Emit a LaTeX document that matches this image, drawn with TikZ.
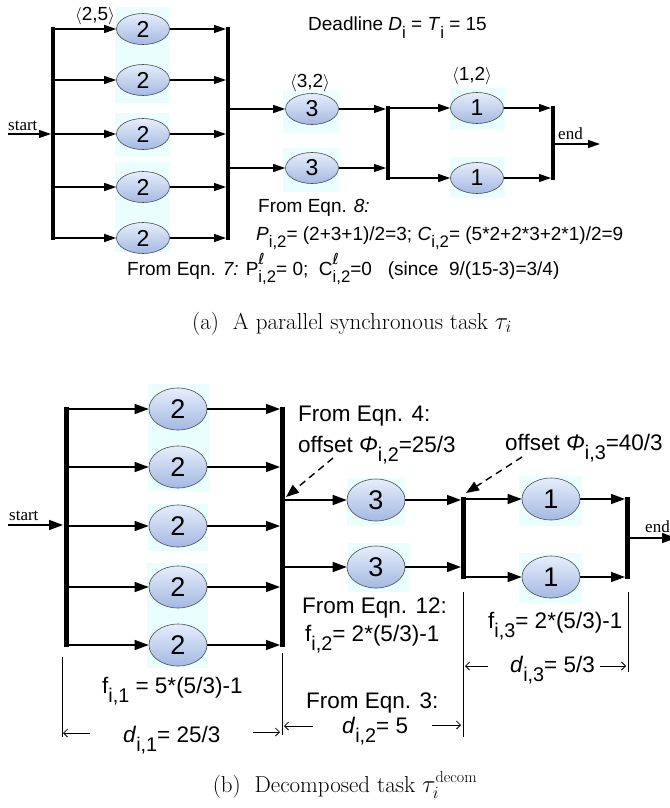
\documentclass[tikz,border=0pt]{standalone}
\usepackage{fontspec}
\usepackage{graphicx}
\usetikzlibrary{shapes.geometric,arrows.meta}
\newfontfamily\lsans{Liberation Sans}
\newfontfamily\lserif{Liberation Serif}
\newfontfamily\djv{DejaVu Sans}
\definecolor{bgcyan}{RGB}{234,254,254}
\definecolor{elltop}{RGB}{230,238,252}
\definecolor{ellbot}{RGB}{164,184,226}
\newcommand{\mysub}[1]{\raisebox{-0.42em}{\scalebox{0.88}{#1}}}
\newcommand{\mysubsup}[2]{\rlap{\raisebox{0.55em}{\scalebox{0.8}{\djv\itshape #2}}}\raisebox{-0.42em}{\scalebox{0.88}{#1}}}
\begin{document}
\begin{tikzpicture}[x=1pt,y=-1pt,
  taskA/.style={ellipse, draw=black!70, line width=0.6pt, top color=elltop, bottom color=ellbot,
    minimum width=53pt, minimum height=31pt, inner sep=0pt, font=\lsans\fontsize{23}{23}\selectfont},
  taskB/.style={taskA, minimum width=58pt, minimum height=42pt, font=\lsans\fontsize{27}{27}\selectfont},
  arrA/.style={line width=1.2pt, -{Triangle[length=12pt,width=8pt]}},
  arrB/.style={line width=1.4pt, -{Triangle[length=14pt,width=10pt]}},
  dasharr/.style={line width=1.4pt, dash pattern=on 7pt off 5pt, -{Triangle[length=13pt,width=10pt]}},
  barA/.style={line width=4pt},
  barB/.style={line width=5pt},
  dimline/.style={line width=0.9pt},
  dimarr/.style={line width=0.8pt, -{Straight Barb[length=4pt,width=8pt]}},
  lblA/.style={font=\lsans\fontsize{19}{22}\selectfont, inner sep=0pt},
  lblB/.style={font=\lsans\fontsize{22.5}{26}\selectfont, inner sep=0pt},
  serl/.style={font=\lserif\fontsize{17}{20}\selectfont, inner sep=0pt},
  capt/.style={font=\fontsize{23}{27}\selectfont, inner sep=0pt}
]
\useasboundingbox (0,0) rectangle (669,808);

% ---------- backgrounds (a)
\fill[bgcyan] (115,7) rectangle (170,103);
\fill[bgcyan] (115,113) rectangle (170,157);
\fill[bgcyan] (115,162) rectangle (170,252);
\fill[bgcyan] (283,90) rectangle (339,133);
\fill[bgcyan] (283,148) rectangle (339,192);
\fill[bgcyan] (450,88) rectangle (505,130);
\fill[bgcyan] (450,157) rectangle (505,198);
% ---------- backgrounds (b)
\fill[bgcyan] (148,384) rectangle (210,491);
\fill[bgcyan] (148,504) rectangle (208,551);
\fill[bgcyan] (147,563) rectangle (208,668);
\fill[bgcyan] (347,478) rectangle (405,526);
\fill[bgcyan] (348,543) rectangle (410,592);
\fill[bgcyan] (519,476) rectangle (582,526);
\fill[bgcyan] (519,553) rectangle (582,603);

% ================= (a)
\foreach \n/\y in {1/29,2/80,3/134,4/187,5/238} \node[taskA] (a\n) at (143,\y) {2};
\node[taskA] (a6) at (312,109) {3};
\node[taskA] (a7) at (312,168) {3};
\node[taskA] (a8) at (477,108) {1};
\node[taskA] (a9) at (477,178) {1};

\coordinate (A1) at (53,0);
\coordinate (A2) at (228,0);
\coordinate (A3) at (388,0);
\coordinate (A4) at (553,0);
\draw[barA] (53,27) -- (53,240);
\draw[barA] (228,27) -- (228,240);
\draw[barA] (388,106) -- (388,180);
\draw[barA] (553,106) -- (553,180);

\coordinate (sA) at (8,134);
\coordinate (eA) at (600,144);
\draw[arrA, shorten >=2pt] (sA) -- (A1 |- sA);
\foreach \n in {1,...,5} {
  \draw[arrA] (A1 |- a\n) -- (a\n);
  \draw[arrA, shorten >=2pt] (a\n) -- (A2 |- a\n);
}
\draw[arrA] (A2 |- a6) -- (a6);
\draw[arrA] (A2 |- a7) -- (a7);
\draw[arrA, shorten >=2pt] (a6) -- (A3 |- a6);
\draw[arrA, shorten >=2pt] (a7) -- (A3 |- a7);
\draw[arrA] (A3 |- a8) -- (a8);
\draw[arrA] (A3 |- a9) -- (a9);
\draw[arrA, shorten >=2pt] (a8) -- (A4 |- a8);
\draw[arrA, shorten >=2pt] (a9) -- (A4 |- a9);
\draw[arrA] (A4 |- eA) -- (eA);

\node[serl, anchor=base west] (stA) at (8,130) {start};
\node[serl, anchor=base west] (enA) at (558,139) {end};

\node[lblA, anchor=base] (l25) at (95,21) {$\langle$2,5$\rangle$};
\node[lblA, anchor=base] (l32) at (310,87) {$\langle$3,2$\rangle$};
\node[lblA, anchor=base] (l12) at (472,81) {$\langle$1,2$\rangle$};
\node[lblA, anchor=base west] (dl) at (308,31) {Deadline \textit{D}\mysub{i} = \textit{T}\mysub{i} = 15};
\node[lblA, anchor=base west] (fe8) at (258,212) {From Eqn. \textit{8:}};
\node[lblA, anchor=base west] (pl) at (256,240) {\textit{P}\mysub{i,2}= (2+3+1)/2=3; \textit{C}\mysub{i,2}= (5*2+2*3+2*1)/2=9};
\node[lblA, anchor=base west] (fe7) at (127,275) {From Eqn. \textit{7:} P\mysubsup{i,2}{ℓ}= 0;\ \ C\mysubsup{i,2}{ℓ}=0\ \ \ (since\ \ 9/(15-3)=3/4)};

\node[capt, anchor=base] (capA) at (352,329) {(a)\ \ A parallel synchronous task $\tau_i$};

% ================= (b)
\foreach \n/\y in {1/409,2/467,3/526,4/587,5/645} \node[taskB] (b\n) at (178,\y) {2};
\node[taskB] (b6) at (376,500) {3};
\node[taskB] (b7) at (376,567) {3};
\node[taskB] (b8) at (551,499) {1};
\node[taskB] (b9) at (551,577) {1};

\coordinate (B1) at (66,0);
\coordinate (B2) at (282,0);
\coordinate (B3) at (463,0);
\coordinate (B4) at (627,0);
\draw[barB] (66,407) -- (66,647);
\draw[barB] (282,407) -- (282,647);
\draw[barB] (463,497) -- (463,579);
\draw[barB] (627,497) -- (627,579);

\coordinate (sB) at (8,525);
\coordinate (eB) at (676,538);
\draw[arrB, shorten >=3pt] (sB) -- (B1 |- sB);
\foreach \n in {1,...,5} {
  \draw[arrB] (B1 |- b\n) -- (b\n);
  \draw[arrB, shorten >=2pt] (b\n) -- (B2 |- b\n);
}
\draw[arrB] (B2 |- b6) -- (b6);
\draw[arrB] (B2 |- b7) -- (b7);
\draw[arrB, shorten >=2pt] (b6) -- (B3 |- b6);
\draw[arrB, shorten >=2pt] (b7) -- (B3 |- b7);
\draw[arrB] (B3 |- b8) -- (b8);
\draw[arrB] (B3 |- b9) -- (b9);
\draw[arrB, shorten >=2pt] (b8) -- (B4 |- b8);
\draw[arrB, shorten >=2pt] (b9) -- (B4 |- b9);
\draw[arrB] (B4 |- eB) -- (eB);

\node[serl, anchor=base west] (stB) at (9,520) {start};
\node[serl, anchor=base west] (enB) at (645,532) {end};

% offsets
\node[lblB, anchor=base west] (fe4) at (298,421) {From Eqn. 4:};
\node[lblB, anchor=base west] (off2) at (298,452) {offset \textit{Φ}\mysub{i,2}=25/3};
\node[lblB, anchor=base west] (off3) at (505,450) {offset \textit{Φ}\mysub{i,3}=40/3};
\coordinate (o2s) at (333,458);
\coordinate (o2e) at (286,497);
\coordinate (o3s) at (522,457);
\coordinate (o3e) at (466,493);
\draw[dasharr] (o2s) -- (o2e);
\draw[dasharr] (o3s) -- (o3e);

% formulas
\node[lblB, anchor=base west] (fe12) at (302,613) {From Eqn. 12:};
\node[lblB, anchor=base west] (f2) at (305,641) {f\mysub{i,2}= 2*(5/3)-1};
\node[lblB, anchor=base west] (f3) at (488,628) {f\mysub{i,3}= 2*(5/3)-1};
\node[lblB, anchor=base west] (f1) at (102,693) {f\mysub{i,1} = 5*(5/3)-1};
\node[lblB, anchor=base west] (fe3) at (306,708) {From Eqn. 3:};
\node[lblB, anchor=base west] (d1) at (123,742) {\textit{d}\mysub{i,1}= 25/3};
\node[lblB, anchor=base west] (d2) at (342,733) {\textit{d}\mysub{i,2}= 5};
\node[lblB, anchor=base west] (d3) at (510,672) {\textit{d}\mysub{i,3}= 5/3};

% dimension lines
\coordinate (v1t) at (62,657);  \coordinate (v1b) at (62,737);
\coordinate (v2t) at (282,653); \coordinate (v2b) at (282,735);
\coordinate (v3t) at (463,592); \coordinate (v3b) at (463,737);
\coordinate (v4t) at (628,592); \coordinate (v4b) at (628,672);
\draw[dimline] (v1t) -- (v1b);
\draw[dimline] (v2t) -- (v2b);
\draw[dimline] (v3t) -- (v3b);
\draw[dimline] (v4t) -- (v4b);

\coordinate (p1s) at (90,733);  \coordinate (p1e) at (63,733);
\coordinate (p2s) at (253,732); \coordinate (p2e) at (280,732);
\coordinate (p3s) at (313,726); \coordinate (p3e) at (284,726);
\coordinate (p4s) at (432,725); \coordinate (p4e) at (461,725);
\coordinate (p5s) at (488,666); \coordinate (p5e) at (465,666);
\coordinate (p6s) at (600,666); \coordinate (p6e) at (626,666);
\foreach \k in {1,...,6} \draw[dimarr] (p\k s) -- (p\k e);

\node[capt, anchor=base] (capB) at (345,792) {(b)\ \ Decomposed task $\tau_i^{\mathrm{decom}}$};
\end{tikzpicture}
\end{document}
